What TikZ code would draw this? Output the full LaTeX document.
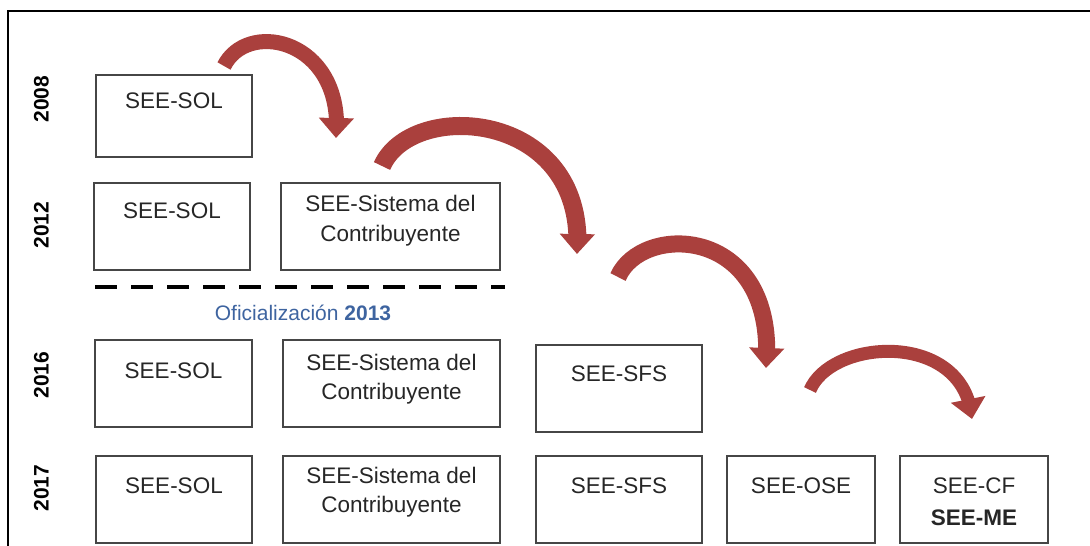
\documentclass[tikz,border=0pt]{standalone}
\usepackage{fontspec}
\setmainfont{Liberation Sans}
\usetikzlibrary{arrows.meta,bending}
\definecolor{arrred}{RGB}{170,64,61}
\definecolor{boxgray}{RGB}{70,70,70}
\definecolor{ofblue}{RGB}{62,100,160}
\tikzset{
  x=1pt,y=-1pt,
  yearbox/.style={draw=boxgray,line width=1.6pt,inner sep=0pt},
  txt/.style={font=\fontsize{22.5}{28}\selectfont,text=black!85,inner sep=0pt,text height=0.72em,text depth=0pt,anchor=center},
  yr/.style={font=\fontsize{21}{24}\bfseries\selectfont,rotate=90,inner sep=0pt,text height=0.72em,text depth=0pt,anchor=center},
  arr/.style={draw=arrred,-{Triangle[length=20pt,width=34pt]}},
}
\begin{document}
\begin{tikzpicture}
\useasboundingbox (0,0) rectangle (1090,546);
% frame
\draw[line width=2.5pt,black] (8,546) -- (8,11) -- (1090,11);
% year labels
\node[yr] (y08) at (45,99) {2008};
\node[yr] (y12) at (45,225) {2012};
\node[yr] (y16) at (45,375) {2016};
\node[yr] (y17) at (45,488) {2017};
% boxes
\node[yearbox,minimum width=156pt,minimum height=82pt] (b08) at (174,116) {};
\node[yearbox,minimum width=156pt,minimum height=87pt] (b12a) at (172,226.5) {};
\node[yearbox,minimum width=219pt,minimum height=87pt] (b12b) at (390.5,226.5) {};
\node[yearbox,minimum width=157pt,minimum height=87pt] (b16a) at (173.5,383.5) {};
\node[yearbox,minimum width=217pt,minimum height=87pt] (b16b) at (391.5,383.5) {};
\node[yearbox,minimum width=166pt,minimum height=87pt] (b16c) at (619,388.5) {};
\node[yearbox,minimum width=156pt,minimum height=87pt] (b17a) at (174,499.5) {};
\node[yearbox,minimum width=217pt,minimum height=87pt] (b17b) at (391.5,499.5) {};
\node[yearbox,minimum width=166pt,minimum height=87pt] (b17c) at (619,499.5) {};
\node[yearbox,minimum width=148pt,minimum height=87pt] (b17d) at (801,499.5) {};
\node[yearbox,minimum width=148pt,minimum height=87pt] (b17e) at (974,499.5) {};
% texts
\node[txt] (t08) at (174,105) {SEE-SOL};
\node[txt] (t12a) at (172,215) {SEE-SOL};
\node[txt] (t12b1) at (390.5,208) {SEE-Sistema del};
\node[txt] (t12b2) at (390.5,238) {Contribuyente};
\node[txt] (t16a) at (173.5,375) {SEE-SOL};
\node[txt] (t16b1) at (391.5,367) {SEE-Sistema del};
\node[txt] (t16b2) at (391.5,396) {Contribuyente};
\node[txt] (t16c) at (619,378) {SEE-SFS};
\node[txt] (t17a) at (174,490) {SEE-SOL};
\node[txt] (t17b1) at (391.5,480) {SEE-Sistema del};
\node[txt] (t17b2) at (391.5,509) {Contribuyente};
\node[txt] (t17c) at (619,490) {SEE-SFS};
\node[txt] (t17d) at (801,490) {SEE-OSE};
\node[txt] (t17e1) at (974,490) {SEE-CF};
\node[txt,font=\fontsize{22.5}{28}\bfseries\selectfont] (t17e2) at (974,522) {SEE-ME};
% dashed separator
\coordinate (dl) at (95,287);
\coordinate (dr) at (505,287);
\draw[line width=4pt,dash pattern=on 22pt off 14pt] (dl) -- (dr);
\node[font=\fontsize{21}{24}\selectfont,text=ofblue,inner sep=0pt] (ofi) at (303,313) {Oficialización \textbf{2013}};
% arrows
\coordinate (a1s) at (224,66);
\coordinate (a1e) at (336,138);
\draw[arr,line width=15pt] (a1s) .. controls (248,18) and (345,40) .. (a1e);
\coordinate (a2s) at (382,166);
\coordinate (a2e) at (577,254);
\draw[arr,line width=18pt] (a2s) .. controls (412,98) and (588,110) .. (a2e);
\coordinate (a3s) at (618,277);
\coordinate (a3e) at (766,368);
\draw[arr,line width=17pt] (a3s) .. controls (642,222) and (778,225) .. (a3e);
\coordinate (a4s) at (810,390);
\coordinate (a4e) at (972,419);
\draw[arr,line width=13pt] (a4s) .. controls (832,338) and (965,330) .. (a4e);
\end{tikzpicture}
\end{document}
